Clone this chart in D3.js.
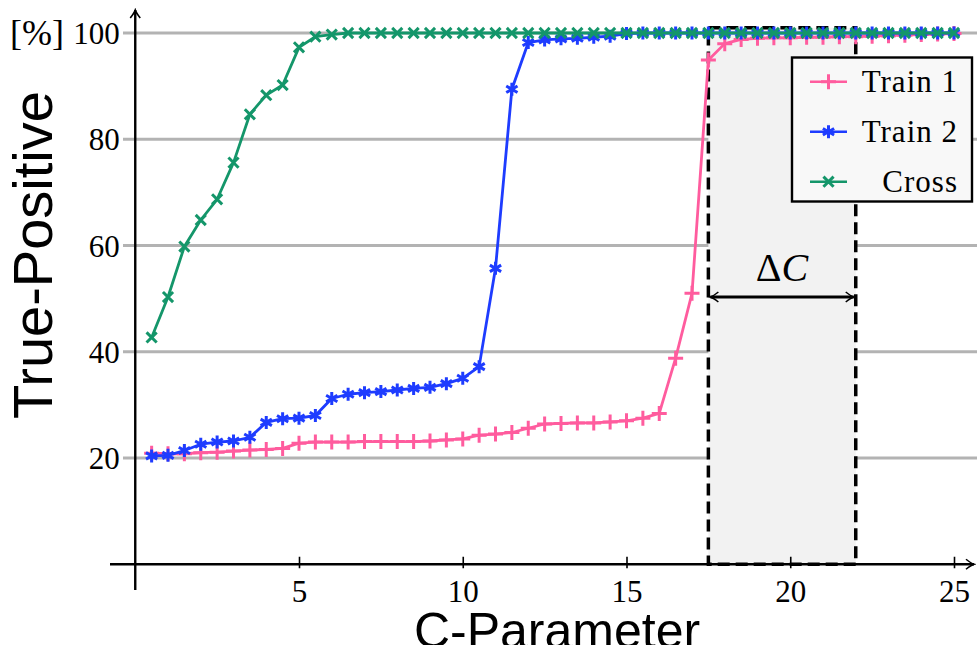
<!DOCTYPE html>
<html>
<head>
<meta charset="utf-8">
<script src="https://cdn.jsdelivr.net/npm/d3@7"></script>
<style>
html,body{margin:0;padding:0;background:#fff;}
svg{display:block;}
</style>
</head>
<body>
<svg id="chart" width="977" height="645"></svg>
<script>
// ---- data ----
const cValues = d3.range(1, 51).map(i => i * 0.5); // 0.5 .. 25 step 0.5
const train1 = [20.9,20.8,20.8,21.0,21.1,21.3,21.5,21.6,21.8,22.8,
                23.0,23.0,23.0,23.1,23.1,23.1,23.1,23.2,23.4,23.6,
                24.3,24.5,24.8,25.6,26.4,26.5,26.6,26.6,26.8,27.0,
                27.5,28.4,38.8,51.0,94.9,98.0,98.8,99.0,99.1,99.1,
                99.2,99.2,99.3,99.3,99.4,99.5,99.6,99.7,99.8,99.9];
const train2 = [20.4,20.5,21.4,22.6,23.0,23.2,23.9,26.7,27.4,27.5,
                28.0,31.2,32.0,32.3,32.5,32.8,33.1,33.3,34.0,35.0,
                37.2,55.7,89.4,98.2,98.7,98.9,99.0,99.2,99.4,99.9,
                100,100,100,100,100,100,100,100,100,100,
                100,100,100,100,100,100,100,100,100,100];
const cross  = [42.7,50.3,59.8,64.8,68.7,75.6,84.7,88.3,90.2,97.3,
                99.3,99.7,100,100,100,100,100,100,100,100,
                100,100,100,100,100,100,100,100,100,100,
                100,100,100,100,100,100,100,100,100,100,
                100,100,100,100,100,100,100,100,100,100];
const seriesNames = ["Train 1", "Train 2", "Cross"];
const xTicks = [5, 10, 15, 20, 25];
const yTicks = [20, 40, 60, 80, 100];
const deltaRange = [17.5, 22];
const deltaTop = 101;

// ---- setup ----
const svg = d3.select("#chart");
const x = d3.scaleLinear().domain([0, 25]).range([135.25, 954]);
const y = d3.scaleLinear().domain([0, 100]).range([564.25, 33]);
const serif = "'Liberation Serif', 'DejaVu Serif', serif";
const sans = "'Liberation Sans', Arial, sans-serif";
const colors = ["#ff5c9e", "#1e3cff", "#14966a"];
const markers = ["plus", "asterisk", "cross"];

const defs = svg.append("defs");
defs.append("marker").attr("id", "arr")
  .attr("viewBox", "-10 -6 12 12").attr("refX", 0).attr("refY", 0)
  .attr("markerWidth", 12).attr("markerHeight", 12)
  .attr("markerUnits", "userSpaceOnUse")
  .attr("orient", "auto-start-reverse")
  .append("path").attr("d", "M-8,-5 Q-3,-1 0,0 Q-3,1 -8,5")
  .attr("fill", "none").attr("stroke", "#000").attr("stroke-width", 1.6);

// gridlines
svg.append("g").selectAll("line").data(yTicks).join("line")
  .attr("x1", 123).attr("x2", 977)
  .attr("y1", d => y(d)).attr("y2", d => y(d))
  .attr("stroke", "#b3b3b3").attr("stroke-width", 3);

// delta C region
svg.append("rect")
  .attr("x", x(deltaRange[0])).attr("y", y(deltaTop))
  .attr("width", x(deltaRange[1]) - x(deltaRange[0]))
  .attr("height", y(0) - y(deltaTop))
  .attr("fill", "#f2f2f2").attr("stroke", "#000")
  .attr("stroke-width", 3.5).attr("stroke-dasharray", "12,6");

// axes lines
svg.append("line").attr("x1", 110).attr("x2", 974).attr("y1", y(0)).attr("y2", y(0))
  .attr("stroke", "#000").attr("stroke-width", 2.4).attr("marker-end", "url(#arr)");
svg.append("line").attr("x1", x(0)).attr("x2", x(0)).attr("y1", 590).attr("y2", 10)
  .attr("stroke", "#000").attr("stroke-width", 2.4).attr("marker-end", "url(#arr)");

// x axis ticks & labels
const xAxis = svg.append("g").attr("transform", `translate(0,${y(0)})`)
  .call(d3.axisBottom(x).tickValues(xTicks).tickSize(4).tickPadding(13));
xAxis.select(".domain").remove();
xAxis.selectAll(".tick line").attr("y1", -7.5).attr("y2", 4)
  .attr("stroke", "#000").attr("stroke-width", 1.6);
xAxis.selectAll(".tick text").attr("font-family", serif).attr("font-size", 31)
  .attr("fill", "#000").attr("dy", "0.68em");

// y axis labels
const yAxis = svg.append("g").attr("transform", `translate(${x(0)},0)`)
  .call(d3.axisLeft(y).tickValues(yTicks).tickSize(0).tickPadding(15.5));
yAxis.select(".domain").remove();
yAxis.selectAll(".tick text").attr("font-family", serif).attr("font-size", 31)
  .attr("fill", "#000").attr("dy", "0.34em");

svg.append("text").attr("x", 37).attr("y", y(100)).attr("dy", "0.34em")
  .attr("text-anchor", "middle").attr("font-family", serif).attr("font-size", 36)
  .text("[%]");

// axis titles
svg.append("text").attr("x", 557).attr("y", 648).attr("text-anchor", "middle")
  .attr("font-family", sans).attr("font-size", 50).attr("fill", "#000")
  .text("C-Parameter");
svg.append("text").attr("transform", "translate(52,255) rotate(-90)")
  .attr("text-anchor", "middle").attr("font-family", sans).attr("font-size", 56)
  .attr("fill", "#000").text("True-Positive");

// marker path generator
function markerPath(type, s) {
  if (type === "plus") return `M${-s},0H${s}M0,${-s}V${s}`;
  if (type === "cross") { const a = s * 0.78; return `M${-a},${-a}L${a},${a}M${-a},${a}L${a},${-a}`; }
  // asterisk: 6 arms
  let p = "";
  [90, 30, -30].forEach(deg => {
    const r = deg * Math.PI / 180, dx = s * Math.cos(r), dy = s * Math.sin(r);
    p += `M${-dx},${-dy}L${dx},${dy}`;
  });
  return p;
}
const markerSize = [7.5, 6.5, 6.5];

// curves
const allSeries = [train1, train2, cross];
const line = d3.line().x(d => x(d[0])).y(d => y(d[1]));
allSeries.forEach((vals, i) => {
  const pts = cValues.map((c, j) => [c, vals[j]]);
  const g = svg.append("g");
  g.append("path").attr("d", line(pts)).attr("fill", "none")
    .attr("stroke", colors[i]).attr("stroke-width", 2.8).attr("stroke-linejoin", "round");
  g.selectAll("path.m").data(pts).join("path").attr("class", "m")
    .attr("transform", d => `translate(${x(d[0])},${y(d[1])})`)
    .attr("d", markerPath(markers[i], markerSize[i]))
    .attr("fill", "none").attr("stroke", colors[i]).attr("stroke-width", 3);
});

// delta C arrow
const arrY = 297;
svg.append("line").attr("x1", x(deltaRange[0]) + 2).attr("x2", x(deltaRange[1]) - 2)
  .attr("y1", arrY).attr("y2", arrY).attr("stroke", "#000").attr("stroke-width", 2.8)
  .attr("marker-start", "url(#arr)").attr("marker-end", "url(#arr)");
const dt = svg.append("text").attr("x", (x(deltaRange[0]) + x(deltaRange[1])) / 2)
  .attr("y", 281).attr("text-anchor", "middle").attr("font-family", serif)
  .attr("font-size", 40).attr("fill", "#000");
dt.append("tspan").text("Δ");
dt.append("tspan").attr("font-style", "italic").text("C");

// legend
const lg = svg.append("g");
lg.append("rect").attr("x", 792).attr("y", 57.5).attr("width", 180).attr("height", 144)
  .attr("fill", "#f8f8f8").attr("stroke", "#000").attr("stroke-width", 2.4);
seriesNames.forEach((name, i) => {
  const cy = 81.7 + i * 50;
  lg.append("line").attr("x1", 810).attr("x2", 847).attr("y1", cy).attr("y2", cy)
    .attr("stroke", colors[i]).attr("stroke-width", 2.6);
  lg.append("path").attr("transform", `translate(828.5,${cy})`)
    .attr("d", markerPath(markers[i], markerSize[i])).attr("fill", "none")
    .attr("stroke", colors[i]).attr("stroke-width", 3);
  lg.append("text").attr("x", 958).attr("y", cy + 10).attr("text-anchor", "end")
    .attr("font-family", serif).attr("font-size", 31).attr("letter-spacing", 1)
    .attr("fill", "#000").text(name);
});
</script>
</body>
</html>
